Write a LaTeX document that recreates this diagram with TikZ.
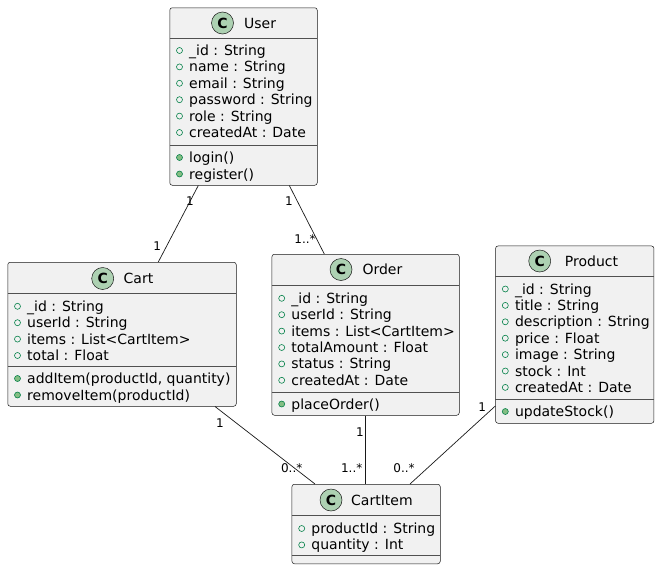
\documentclass[tikz,border=0pt]{standalone}
\usepackage{fontspec}
\setmainfont{DejaVu Sans}
\usetikzlibrary{calc}
\definecolor{boxfill}{HTML}{F1F1F1}
\definecolor{boxline}{HTML}{181818}
\definecolor{sepcol}{HTML}{505050}
\definecolor{spotfill}{HTML}{ADD1B2}
\definecolor{icongreen}{HTML}{038048}
\definecolor{methfill}{HTML}{84BE84}
\newcounter{memctr}
\tikzset{
 classbox/.style={draw=boxline, fill=boxfill, line width=0.5pt, rounded corners=2.5pt, inner sep=0, anchor=north west},
 spot/.style={circle, draw=boxline, fill=spotfill, line width=0.5pt, minimum size=22pt, inner sep=0, font=\fontsize{14}{14}\selectfont\bfseries},
 cname/.style={anchor=base west, inner sep=0, font=\fontsize{14}{16}\selectfont},
 member/.style={anchor=base west, inner sep=0, font=\fontsize{14}{16}\selectfont},
 sepline/.style={draw=sepcol, line width=0.5pt},
 assoc/.style={draw=boxline, line width=0.7pt},
 mult/.style={inner sep=0, font=\fontsize{12}{14}\selectfont},
}
% field row: left x, centre y, text
\newcommand\fieldrow[3]{\stepcounter{memctr}%
  \draw[icongreen, line width=0.6pt] (#1+10,#2) circle (3pt);
  \node[member] (mem\arabic{memctr}) at (#1+19.5,#2+5) {#3};}
\newcommand\methrow[3]{\stepcounter{memctr}%
  \draw[icongreen, fill=methfill, line width=0.6pt] (#1+10,#2) circle (3pt);
  \node[member] (mem\arabic{memctr}) at (#1+19.5,#2+5) {#3};}
\begin{document}
\begin{tikzpicture}[x=1pt, y=-1pt]
\useasboundingbox (0,0) rectangle (660,570);

% ---------- User ----------
\node[classbox, minimum width=147.5pt, minimum height=177.5pt] (user) at (169.5,7.5) {};
\node[spot] (userspot) at (222.5,23) {C};
\node[cname] (username) at (244,28) {User};
\draw[sepline] (169.5,38.5) -- (317,38.5);
\fieldrow{169.5}{50.5}{\_id : String}
\fieldrow{169.5}{66.9}{name : String}
\fieldrow{169.5}{83.3}{email : String}
\fieldrow{169.5}{99.7}{password : String}
\fieldrow{169.5}{116.1}{role : String}
\fieldrow{169.5}{132.5}{createdAt : Date}
\draw[sepline] (169.5,145) -- (317,145);
\methrow{169.5}{157.5}{login()}
\methrow{169.5}{174}{register()}

% ---------- Cart ----------
\node[classbox, minimum width=228.5pt, minimum height=144pt] (cart) at (7.5,262) {};
\node[spot] (cartspot) at (102.7,278.5) {C};
\node[cname] (cartname) at (123.5,283.5) {Cart};
\draw[sepline] (7.5,293) -- (236,293);
\fieldrow{7.5}{306.3}{\_id : String}
\fieldrow{7.5}{322.7}{userId : String}
\fieldrow{7.5}{339.1}{items : List<CartItem>}
\fieldrow{7.5}{355.5}{total : Float}
\draw[sepline] (7.5,366) -- (236,366);
\methrow{7.5}{378.5}{addItem(productId, quantity)}
\methrow{7.5}{395}{removeItem(productId)}

% ---------- Order ----------
\node[classbox, minimum width=187.3pt, minimum height=161pt] (order) at (271.7,254) {};
\node[spot] (orderspot) at (341,269.5) {C};
\node[cname] (ordername) at (362.3,274.5) {Order};
\draw[sepline] (271.7,285) -- (459,285);
\fieldrow{271.7}{298.3}{\_id : String}
\fieldrow{271.7}{314.7}{userId : String}
\fieldrow{271.7}{331.1}{items : List<CartItem>}
\fieldrow{271.7}{347.5}{totalAmount : Float}
\fieldrow{271.7}{363.9}{status : String}
\fieldrow{271.7}{380.3}{createdAt : Date}
\draw[sepline] (271.7,392) -- (459,392);
\methrow{271.7}{404}{placeOrder()}

% ---------- Product ----------
\node[classbox, minimum width=158.4pt, minimum height=177.3pt] (product) at (495.3,245.7) {};
\node[spot] (productspot) at (539.7,261) {C};
\node[cname] (productname) at (564.7,266) {Product};
\draw[sepline] (495.3,276.3) -- (653.7,276.3);
\fieldrow{495.3}{289}{\_id : String}
\fieldrow{495.3}{305.4}{title : String}
\fieldrow{495.3}{321.8}{description : String}
\fieldrow{495.3}{338.2}{price : Float}
\fieldrow{495.3}{354.6}{image : String}
\fieldrow{495.3}{371}{stock : Int}
\fieldrow{495.3}{387.4}{createdAt : Date}
\draw[sepline] (495.3,399.5) -- (653.7,399.5);
\methrow{495.3}{411.5}{updateStock()}

% ---------- CartItem ----------
\node[classbox, minimum width=148.3pt, minimum height=79.5pt] (cartitem) at (291.7,484) {};
\node[spot] (cartitemspot) at (331,500) {C};
\node[cname] (cartitemname) at (351,505) {CartItem};
\draw[sepline] (291.7,515.7) -- (440,515.7);
\fieldrow{291.7}{528.5}{productId : String}
\fieldrow{291.7}{544.9}{quantity : Int}
\draw[sepline] (291.7,555.5) -- (440,555.5);

% ---------- Associations ----------
\draw[assoc] ($(user.south west)+(28.8,0)$) -- ($(cart.north west)+(150.8,0)$);
\draw[assoc] ($(user.south west)+(119.8,0)$) -- ($(order.north west)+(52.6,0)$);
\draw[assoc] ($(cart.south west)+(207.5,0)$) -- ($(cartitem.north west)+(23.3,0)$);
\draw[assoc] ($(order.south west)+(93.6,0)$) -- ($(cartitem.north west)+(73.6,0)$);
\draw[assoc] ($(product.north west)+(0,160.3)$) -- ($(cartitem.north west)+(118.3,0)$);

% ---------- Multiplicities ----------
\node[mult] (m1) at (190,200.7) {1};
\node[mult] (m2) at (157.3,246) {1};
\node[mult] (m3) at (289,200.7) {1};
\node[mult] (m4) at (305,239) {1..*};
\node[mult] (m5) at (220,423.3) {1};
\node[mult] (m6) at (291.7,468.3) {0..*};
\node[mult] (m7) at (360,431.7) {1};
\node[mult] (m8) at (351.7,468.3) {1..*};
\node[mult] (m9) at (404,468.3) {0..*};
\node[mult] (m10) at (482.3,407.3) {1};
\end{tikzpicture}
\end{document}
